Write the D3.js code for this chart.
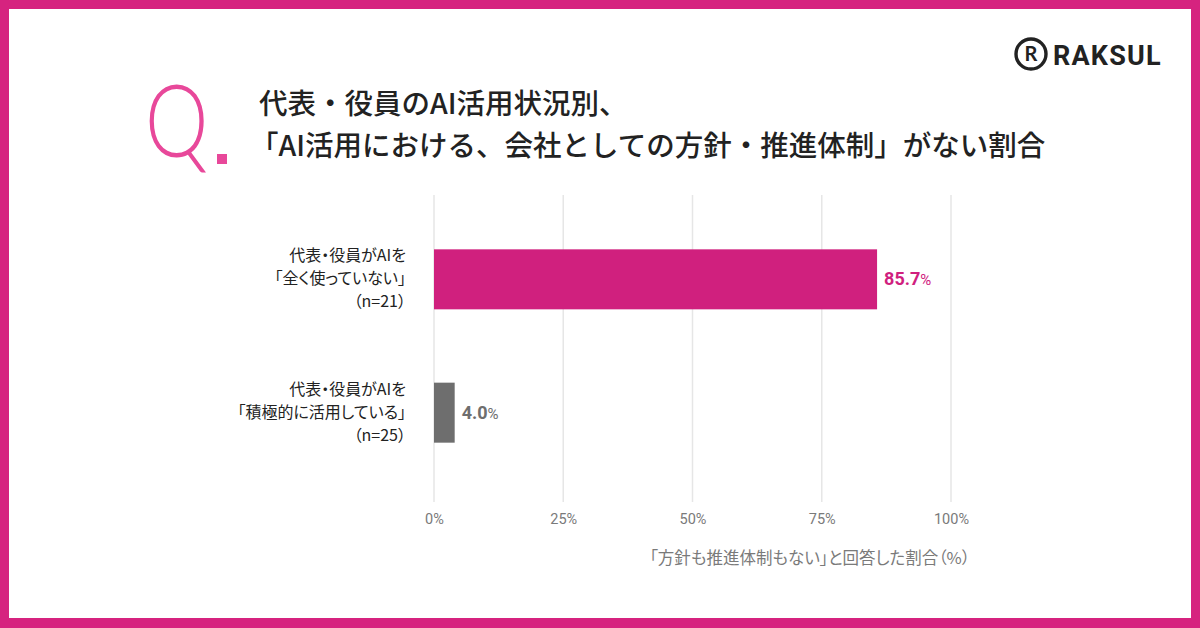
<!DOCTYPE html>
<html lang="ja">
<head>
<meta charset="UTF-8">
<title>AI活用 方針・推進体制</title>
<style>
  body { margin: 0; background: #fff; }
  svg { display: block; font-family: "Noto Sans CJK JP", "Noto Sans", sans-serif; }
  .palt { font-feature-settings: "palt"; }
</style>
</head>
<body>
<script src="https://cdn.jsdelivr.net/npm/d3@7"></script>
<script>
// data
const categories = [
  ['代表・役員がAIを', '「全く使っていない」', '（n=21）'],
  ['代表・役員がAIを', '「積極的に活用している」', '（n=25）']
];
const values = [85.7, 4.0];
const barColors = ['#d0207e', '#6e6e6e'];
const tickValues = [0, 25, 50, 75, 100];
const titleLines = ['代表・役員のAI活用状況別、', '「AI活用における、会社としての方針・推進体制」がない割合'];
const axisTitle = '「方針も推進体制もない」と回答した割合（%）';

const W = 1200, H = 628;
const svg = d3.select('body').append('svg')
  .attr('width', W).attr('height', H);

// frame
svg.append('rect').attr('x', 0).attr('y', 0).attr('width', W).attr('height', H)
  .attr('fill', '#d6237f');
svg.append('rect').attr('x', 9).attr('y', 9).attr('width', W - 18).attr('height', H - 19)
  .attr('fill', '#fff');

// logo
const logo = svg.append('g').attr('transform', 'translate(1031,54)');
logo.append('circle').attr('r', 15).attr('fill', 'none').attr('stroke', '#222').attr('stroke-width', 3.4);
logo.append('text').attr('x', 0).attr('y', 7).attr('text-anchor', 'middle')
  .attr('font-size', 20).attr('font-weight', 700).attr('fill', '#222')
  .attr('font-family', 'Lato, "DejaVu Sans", sans-serif').text('R');
logo.append('text').attr('x', 22).attr('y', 11).attr('font-size', 27).attr('font-weight', 700)
  .attr('fill', '#222').attr('letter-spacing', 1.2)
  .attr('font-family', 'Roboto, "Noto Sans", sans-serif').text('RAKSUL');

// Q.
svg.append('text').attr('transform', 'translate(145,157) scale(0.8,1)')
  .attr('font-size', 100).attr('font-weight', 300)
  .attr('fill', '#e8489a').attr('font-family', 'Lato, "Noto Sans", sans-serif').text('Q');
svg.append('rect').attr('x', 217).attr('y', 154).attr('width', 10).attr('height', 10).attr('fill', '#e8489a');

svg.append('g').selectAll('text').data(titleLines).join('text')
  .attr('x', (d, i) => i === 0 ? 259 : 250)
  .attr('y', (d, i) => 114 + i * 42)
  .attr('font-size', 28.5).attr('font-weight', 500).attr('fill', '#222')
  .text(d => d);

// chart
const x = d3.scaleLinear().domain([0, 100]).range([434, 951]);
const y = d3.scaleBand().domain(d3.range(categories.length)).range([212, 480]).paddingInner(0.55).paddingOuter(0.28);

svg.append('g').selectAll('line').data(tickValues).join('line')
  .attr('x1', d => x(d)).attr('x2', d => x(d))
  .attr('y1', 195).attr('y2', 502)
  .attr('stroke', '#e6e6e6').attr('stroke-width', 1.5);

const axis = svg.append('g').attr('transform', 'translate(0,502)')
  .call(d3.axisBottom(x).tickValues(tickValues).tickFormat(d => d + '%').tickSize(0).tickPadding(12));
axis.select('.domain').remove();
axis.selectAll('text').attr('font-size', 14.5).attr('fill', '#7a7a7a')
  .attr('font-family', 'Roboto, "Noto Sans", sans-serif');

svg.append('text').attr('class', 'palt').attr('x', 970).attr('y', 564).attr('text-anchor', 'end')
  .attr('font-size', 16.5).attr('fill', '#7a7a7a').text(axisTitle);

svg.append('g').selectAll('rect').data(values).join('rect')
  .attr('x', x(0)).attr('y', (d, i) => y(i))
  .attr('width', d => x(d) - x(0)).attr('height', y.bandwidth())
  .attr('fill', (d, i) => barColors[i]);

const lbl = svg.append('g').selectAll('text').data(values).join('text')
  .attr('x', d => x(d) + 7).attr('y', (d, i) => y(i) + y.bandwidth() / 2 + 6)
  .attr('font-size', 18).attr('font-weight', 700)
  .attr('fill', (d, i) => barColors[i])
  .attr('font-family', 'Roboto, "Noto Sans", sans-serif');
lbl.append('tspan').text(d => d.toFixed(1));
lbl.append('tspan').attr('font-size', 15).attr('font-weight', 400).text('%');

const cat = svg.append('g').selectAll('text').data(categories).join('text')
  .attr('class', 'palt')
  .attr('text-anchor', 'end').attr('font-size', 16).attr('fill', '#222');
cat.selectAll('tspan').data((d, i) => d.map(t => ({ t, i }))).join('tspan')
  .attr('x', 406)
  .attr('y', (d, j) => y(d.i) + y.bandwidth() / 2 - 18 + j * 23)
  .text(d => d.t);
</script>
</body>
</html>
